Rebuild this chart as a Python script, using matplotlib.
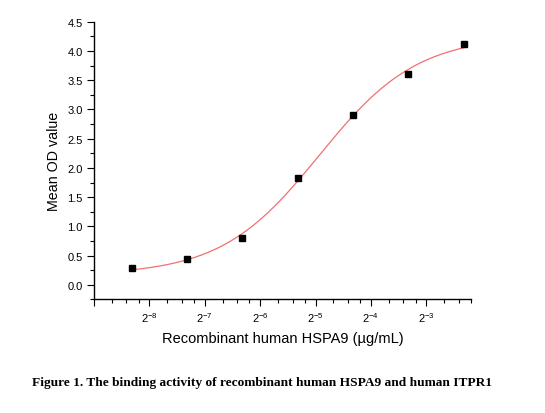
"""Binding activity of recombinant human HSPA9 and human ITPR1 (ELISA curve)."""

import matplotlib

matplotlib.use("Agg")
import matplotlib.pyplot as plt
import numpy as np
from matplotlib.ticker import LogLocator, MultipleLocator, NullFormatter, FuncFormatter

# concentrations (ug/mL), two-fold serial dilution
conc = [0.003125, 0.00625, 0.0125, 0.025, 0.05, 0.1, 0.2]
mean_od = [0.28, 0.44, 0.80, 1.83, 2.91, 3.60, 4.11]

x_label = "Recombinant human HSPA9 (\u00b5g/mL)"
y_label = "Mean OD value"
caption = "Figure 1. The binding activity of recombinant human HSPA9 and human ITPR1"

plt.rcParams.update({
    "font.family": ["Liberation Sans", "DejaVu Sans"],
    "mathtext.fontset": "custom",
    "mathtext.rm": "Liberation Sans",
    "mathtext.it": "Liberation Sans:italic",
    "mathtext.bf": "Liberation Sans:bold",
    "axes.linewidth": 1.0,
})


def fit_logistic(x, y):
    """Origin-style logistic y = A2 + (A1 - A2) / (1 + (x/x0)^p).

    Grid over (x0, p); A1/A2 are solved by linear least squares.
    """
    x = np.asarray(x, float)
    y = np.asarray(y, float)
    best = None
    for lx0 in np.linspace(np.log(x.min()), np.log(x.max() * 4), 400):
        for p in np.linspace(0.3, 4.0, 300):
            f = 1.0 / (1.0 + (x / np.exp(lx0)) ** p)
            A = np.column_stack([f, 1.0 - f])
            coef, *_ = np.linalg.lstsq(A, y, rcond=None)
            sse = np.sum((A @ coef - y) ** 2)
            if best is None or sse < best[0]:
                best = (sse, coef[0], coef[1], np.exp(lx0), p)
    _, a1, a2, x0, p = best
    return lambda xx: a2 + (a1 - a2) / (1.0 + (xx / x0) ** p)


model = fit_logistic(conc, mean_od)
x_fit = np.geomspace(min(conc), max(conc), 300)

fig = plt.figure(figsize=(5.45, 4.14), dpi=100)
ax = fig.add_axes([0.1725, 0.2742, 0.865 - 0.1725, 0.9452 - 0.2742])

ax.plot(x_fit, model(x_fit), color="#f07072", linewidth=0.9, zorder=2)
ax.plot(conc, mean_od, linestyle="none", marker="s", markersize=5,
        color="black", zorder=3)

ax.set_xscale("log", base=2)
ax.set_xlim(2 ** -9, 0.22)
ax.set_ylim(-0.25, 4.5)

ax.xaxis.set_major_locator(LogLocator(base=2, numticks=20))
ax.xaxis.set_minor_locator(LogLocator(base=2, subs=(1.25, 1.5, 1.75), numticks=20))
ax.xaxis.set_minor_formatter(NullFormatter())
ax.xaxis.set_major_formatter(
    FuncFormatter(lambda v, pos: "" if round(np.log2(v)) < -8 else f"$2^{{{int(round(np.log2(v)))}}}$")
)
ax.yaxis.set_major_locator(MultipleLocator(0.5))
ax.yaxis.set_minor_locator(MultipleLocator(0.25))
ax.yaxis.set_major_formatter(FuncFormatter(lambda v, pos: f"{v:.1f}" if v > -0.1 else ""))

ax.tick_params(which="major", direction="out", length=5, width=0.8,
               labelsize=8, pad=3)
ax.tick_params(which="minor", direction="out", length=3, width=0.8)

for side in ("top", "right"):
    ax.spines[side].set_visible(False)

ax.set_xlabel(x_label, fontsize=10.5, labelpad=5)
ax.set_ylabel(y_label, fontsize=10.3, labelpad=5)

fig.text(0.481, 0.0676, caption, ha="center", va="baseline",
         fontsize=9.6, fontweight="bold",
         family=["Liberation Serif", "DejaVu Serif"])

fig.savefig("out.png", dpi=100)
